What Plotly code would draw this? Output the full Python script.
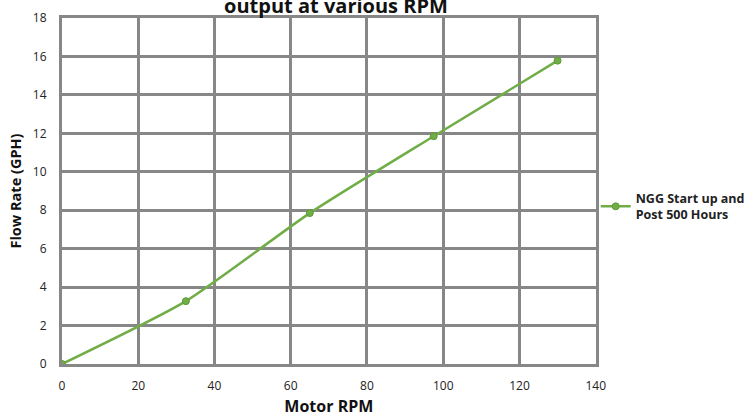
import plotly.graph_objects as go

rpm = [0, 32.5, 65, 97.5, 130]
flow = [0, 3.27, 7.85, 11.85, 15.78]
series_name = "<b>NGG Start up and<br>Post 500 Hours</b>"

green = "#70ad47"
grid = "#878787"
font = "Open Sans"

fig = go.Figure()
fig.add_trace(go.Scatter(
    x=rpm, y=flow, mode="lines+markers", name=series_name,
    line=dict(color=green, width=2.5, shape="spline", smoothing=0.6),
    marker=dict(color=green, size=7, line=dict(color="#5e9a38", width=1)),
))

fig.update_layout(
    width=755, height=417,
    margin=dict(l=62, r=156, t=18, b=53),
    paper_bgcolor="white", plot_bgcolor="white",
    font=dict(family=font, size=12, color="#222222"),
    title=dict(text="<b>output at various RPM</b>", x=0.445, xanchor="center",
               y=0.986, yref="container", yanchor="middle",
               font=dict(family=font, size=20, color="#111111")),
    showlegend=True,
    legend=dict(x=0.789, xref="container", xanchor="left",
                y=0.455, yanchor="middle",
                bgcolor="rgba(0,0,0,0)",
                font=dict(family=font, size=12.5, color="#222222"),
                itemwidth=30, tracegroupgap=0),
    xaxis=dict(range=[0, 140], dtick=20, tick0=0, automargin=False,
               showgrid=True, gridcolor=grid, gridwidth=3,
               showline=True, linecolor=grid, linewidth=3, mirror=True,
               zeroline=False, ticks="", ticklabelstandoff=9,
               title=dict(text="<b>Motor RPM</b>", standoff=8,
                          font=dict(family=font, size=16, color="#111111"))),
    yaxis=dict(range=[0, 18], dtick=2, tick0=0, automargin=False,
               showgrid=True, gridcolor=grid, gridwidth=3,
               showline=True, linecolor=grid, linewidth=3, mirror=True,
               zeroline=False, ticks="", ticklabelstandoff=10,
               title=dict(text="<b>Flow Rate (GPH)</b>", standoff=8,
                          font=dict(family=font, size=14.5, color="#111111"))),
)
fig.write_html("out.html", config={"displayModeBar": False},
               post_script="document.body.style.margin='0';")
